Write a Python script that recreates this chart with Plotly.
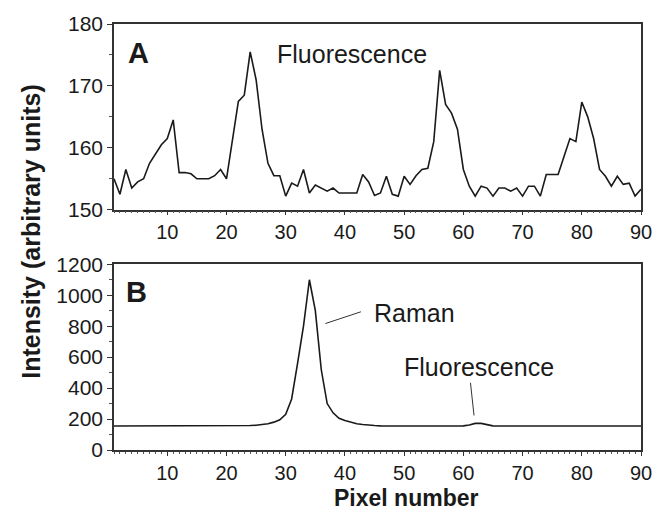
import plotly.graph_objects as go
from plotly.subplots import make_subplots

pixels = list(range(1, 91))

fluor_a = [
    155, 152.5, 156.5, 153.5, 154.5, 155, 157.5, 159, 160.5, 161.5,
    164.5, 156, 156, 155.8, 155, 155, 155, 155.5, 156.5, 155,
    161.5, 167.5, 168.5, 175.5, 171, 163, 157.5, 155.5, 155.5, 152.2,
    154.3, 153.8, 156.5, 152.7, 154, 153.5, 153, 153.5, 152.7, 152.7,
    152.7, 152.7, 155.7, 154.5, 152.3, 152.7, 155.4, 152.5, 152.2, 155.4,
    154.1, 155.5, 156.5, 156.7, 161, 172.5, 167, 165.6, 163, 156.5,
    153.8, 152.2, 153.8, 153.5, 152.2, 153.5, 153.5, 153, 153.5, 152.2,
    153.8, 153.8, 152.2, 155.7, 155.7, 155.7, 158.6, 161.5, 161, 167.4,
    165, 161.5, 156.5, 155.4, 153.8, 155.4, 154.1, 154.3, 152.2, 153.3,
]

raman_b = [
    155, 155, 155, 155, 155, 156, 156, 156, 156, 156,
    157, 157, 157, 157, 157, 157, 157, 157, 157, 157,
    157, 157, 157, 158, 160, 165, 170, 180, 195, 230,
    330, 560, 800, 1100, 900, 520, 300, 240, 205, 190,
    178, 170, 165, 160, 158, 156, 155, 155, 155, 155,
    155, 155, 155, 155, 155, 155, 155, 155, 155, 156,
    162, 172, 172, 162, 156, 155, 155, 155, 155, 155,
    155, 155, 155, 155, 155, 155, 155, 155, 155, 155,
    155, 155, 155, 155, 155, 155, 155, 155, 155, 155,
]

x_ticks = [10, 20, 30, 40, 50, 60, 70, 80, 90]

FONT = "Liberation Sans, Arial, Helvetica, sans-serif"
INK = "#1a1a1a"

fig = make_subplots(rows=2, cols=1, vertical_spacing=0.128)

fig.add_trace(go.Scatter(x=pixels, y=fluor_a, mode="lines",
                         line=dict(color=INK, width=1.6), showlegend=False), row=1, col=1)
fig.add_trace(go.Scatter(x=pixels, y=raman_b, mode="lines",
                         line=dict(color=INK, width=1.6), showlegend=False), row=2, col=1)

xaxis_common = dict(range=[1, 90], tickvals=x_ticks, ticks="outside", ticklen=4,
                    tickcolor="#333", showline=True, linecolor="#333", linewidth=1.5,
                    mirror=True, showgrid=False, zeroline=False,
                    tickfont=dict(family=FONT, size=20, color=INK),
                    minor=dict(dtick=1, ticks="outside", ticklen=2, tickcolor="#555"))
fig.update_xaxes(**xaxis_common, row=1, col=1)
fig.update_xaxes(**xaxis_common, row=2, col=1)

yaxis_common = dict(ticks="outside", ticklen=5, tickcolor="#333", showline=True,
                    linecolor="#333", linewidth=1.5, mirror=True, showgrid=False,
                    zeroline=False, tickfont=dict(family=FONT, size=21, color=INK))
fig.update_yaxes(range=[150, 180], dtick=10,
                 minor=dict(dtick=5, ticks="outside", ticklen=3, tickcolor="#555"),
                 **yaxis_common, row=1, col=1)
fig.update_yaxes(range=[0, 1200], dtick=200,
                 minor=dict(dtick=100, ticks="outside", ticklen=3, tickcolor="#555"),
                 **yaxis_common, row=2, col=1)

ann_font = dict(family=FONT, size=25, color=INK)
fig.add_annotation(x=3.0, y=175.3, xref="x", yref="y", text="<b>A</b>", showarrow=False,
                   xanchor="left", yanchor="middle", font=dict(family=FONT, size=29, color=INK))
fig.add_annotation(x=2.7, y=1020, xref="x2", yref="y2", text="<b>B</b>", showarrow=False,
                   xanchor="left", yanchor="middle", font=dict(family=FONT, size=29, color=INK))
fig.add_annotation(x=28.2, y=175.2, xref="x", yref="y", text="Fluorescence", showarrow=False,
                   xanchor="left", yanchor="middle", font=ann_font)
fig.add_annotation(x=44.6, y=887, xref="x2", yref="y2", text="Raman", showarrow=False,
                   xanchor="left", yanchor="middle", font=ann_font)
fig.add_annotation(x=49.7, y=536, xref="x2", yref="y2", text="Fluorescence", showarrow=False,
                   xanchor="left", yanchor="middle", font=ann_font)

fig.add_shape(type="line", x0=42.7, y0=893, x1=36.7, y1=817, xref="x2", yref="y2",
              line=dict(color="#333", width=1))
fig.add_shape(type="line", x0=61.2, y0=434, x1=61.8, y1=223, xref="x2", yref="y2",
              line=dict(color="#333", width=1))

fig.add_annotation(x=-0.158, y=0.514, xref="paper", yref="paper",
                   text="<b>Intensity (arbitrary units)</b>", textangle=-90, showarrow=False,
                   xanchor="center", yanchor="middle", font=dict(family=FONT, size=25, color=INK))
fig.add_annotation(x=0.554, y=-0.113, xref="paper", yref="paper",
                   text="<b>Pixel number</b>", showarrow=False,
                   xanchor="center", yanchor="middle", font=dict(family=FONT, size=23, color=INK))

fig.update_layout(width=664, height=511, margin=dict(l=114, r=19, t=20, b=61),
                  paper_bgcolor="white", plot_bgcolor="white")

fig.write_html("out.html", config={"displayModeBar": False},
               post_script="document.body.style.margin='0';document.body.style.overflow='hidden';")
